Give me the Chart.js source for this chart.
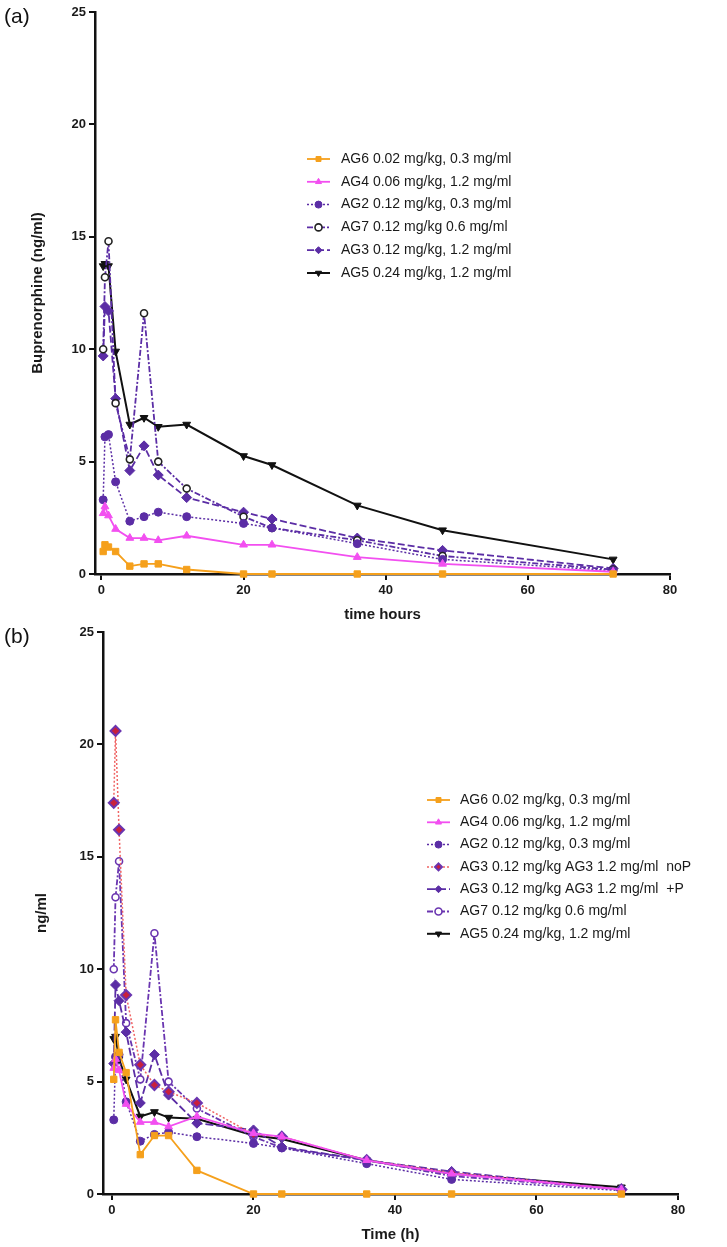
<!DOCTYPE html>
<html>
<head>
<meta charset="utf-8">
<script src="https://cdn.jsdelivr.net/npm/chart.js@4.4.0/dist/chart.umd.min.js"></script>
<style>
  html, body { margin: 0; padding: 0; background: #fff; }
  .wrap { position: relative; width: 727px; height: 1247px; overflow: hidden; }
  canvas { position: absolute; left: 0; }
  #chartA { top: 0; }
  #chartB { top: 620px; }
  .tag { position: absolute; left: 4px; font: 21px "Liberation Sans", Arial, sans-serif; color: #111; }
</style>
</head>
<body>
<div class="wrap">
  <canvas id="chartA" width="727" height="630"></canvas>
  <canvas id="chartB" width="727" height="627"></canvas>
  <div class="tag" style="top:4px">(a)</div>
  <div class="tag" style="top:624px">(b)</div>
</div>
<script>
// sampling times (h)
const times = [0.25, 0.5, 1, 2, 4, 6, 8, 12, 20, 24, 36, 48, 72];
const xTicks = [0, 20, 40, 60, 80];
const yTicks = [0, 5, 10, 15, 20, 25];

// panel (a)
const ag6A = [1.0, 1.3, 1.2, 1.0, 0.35, 0.45, 0.45, 0.2, 0, 0, 0, 0, 0];
const ag4A = [2.7, 3.0, 2.6, 2.0, 1.6, 1.6, 1.5, 1.7, 1.3, 1.3, 0.75, 0.45, 0.1];
const ag2A = [3.3, 6.1, 6.2, 4.1, 2.35, 2.55, 2.75, 2.55, 2.25, 2.05, 1.35, 0.65, 0.15];
const ag7A = [10.0, 13.2, 14.8, 7.6, 5.1, 11.6, 5.0, 3.8, 2.55, 2.05, 1.5, 0.8, 0.2];
const ag3A = [9.7, 11.9, 11.7, 7.8, 4.6, 5.7, 4.4, 3.4, 2.75, 2.45, 1.6, 1.05, 0.25];
const ag5A = [13.7, 13.8, 13.7, 9.9, 6.65, 6.95, 6.55, 6.65, 5.25, 4.85, 3.05, 1.95, 0.65];

// panel (b)
const ag6B = [5.1, 7.75, 6.3, 5.4, 1.75, 2.6, 2.6, 1.05, 0, 0, 0, 0, 0];
const ag4B = [5.6, 6.0, 5.5, 4.0, 3.2, 3.2, 3.0, 3.45, 2.7, 2.55, 1.5, 0.9, 0.2];
const ag2B = [3.3, 6.1, 6.2, 4.1, 2.35, 2.65, 2.75, 2.55, 2.25, 2.05, 1.35, 0.65, 0.15];
const ag3noP = [17.4, 20.6, 16.2, 8.85, 5.75, 4.85, 4.55, 4.05, 2.65, 2.55, 1.5, 0.95, 0.2];
const ag3P = [5.8, 9.3, 8.6, 7.2, 4.05, 6.2, 4.4, 3.15, 2.85, 2.1, 1.5, 1.0, 0.2];
const ag7B = [10.0, 13.2, 14.8, 7.6, 5.1, 11.6, 5.0, 3.8, 2.55, 2.05, 1.5, 0.8, 0.2];
const ag5B = [6.9, 7.0, 6.0, 5.1, 3.45, 3.65, 3.4, 3.35, 2.6, 2.45, 1.5, 0.9, 0.3];

const FONT = '"Liberation Sans", Arial, sans-serif';
const ORANGE = '#f5a01c', PINK = '#f24ff0', PURPLE = '#5b2da5', RED = '#f06464';

const pts = vals => times.map((t, i) => ({ x: t, y: vals[i] }));

function series(label, vals, color, opts = {}) {
  return Object.assign({
    label,
    data: pts(vals),
    borderColor: color,
    backgroundColor: color,
    borderWidth: 1.8,
    borderDash: [],
    pointStyle: 'circle',
    pointRadius: 4,
    pointBackgroundColor: color,
    pointBorderColor: color,
    pointBorderWidth: 1,
    pointRotation: 0,
    tension: 0,
    clip: false
  }, opts);
}

// draws the legend box at a fixed spot, reusing each dataset's line + marker style
const boxLegend = {
  id: 'boxLegend',
  afterDatasetsDraw(chart, args, o) {
    const ctx = chart.ctx;
    ctx.save();
    chart.data.datasets.forEach((ds, i) => {
      const y = o.y + i * o.rowH;
      ctx.strokeStyle = ds.borderColor;
      ctx.lineWidth = ds.borderWidth;
      ctx.setLineDash(ds.borderDash || []);
      ctx.beginPath();
      ctx.moveTo(o.x, y);
      ctx.lineTo(o.x + o.len, y);
      ctx.stroke();
      ctx.setLineDash([]);
      ctx.fillStyle = ds.pointBackgroundColor;
      ctx.strokeStyle = ds.pointBorderColor;
      ctx.lineWidth = ds.pointBorderWidth;
      Chart.helpers.drawPoint(ctx, {
        pointStyle: ds.pointStyle, radius: 3.5,
        rotation: ds.pointRotation, borderWidth: ds.pointBorderWidth
      }, o.x + o.len / 2, y);
      ctx.fillStyle = '#1a1a1a';
      ctx.font = '14px ' + FONT;
      ctx.textBaseline = 'middle';
      ctx.textAlign = 'left';
      ctx.fillText(ds.label, o.x + o.len + o.gap, y);
    });
    ctx.restore();
  }
};

function axisOpts(extra) {
  return Object.assign({
    type: 'linear',
    grid: { display: true, drawOnChartArea: false, drawTicks: true, tickLength: 6, color: '#111', lineWidth: 2 },
    border: { display: true, color: '#111', width: 2.5 },
    ticks: { color: '#1a1a1a', font: { family: FONT, size: 13, weight: 'bold' }, padding: 3, maxRotation: 0 }
  }, extra);
}

function makeChart(id, datasets, cfg) {
  return new Chart(document.getElementById(id), {
    type: 'line',
    data: { datasets },
    options: {
      responsive: false,
      animation: false,
      layout: { padding: { left: 0, top: 12, right: cfg.right, bottom: 0 } },
      plugins: {
        legend: { display: false },
        tooltip: { enabled: false },
        boxLegend: cfg.legend
      },
      scales: {
        x: axisOpts({
          min: cfg.xMin, max: 80,
          afterBuildTicks: s => { s.ticks = xTicks.map(v => ({ value: v })); },
          afterFit: s => { s.height = cfg.xH; },
          title: { display: true, text: cfg.xTitle, color: '#1a1a1a',
                   font: { family: FONT, size: 15, weight: 'bold' }, padding: { top: 0, bottom: cfg.xTitlePad } }
        }),
        y: axisOpts({
          min: 0, max: 25,
          afterBuildTicks: s => { s.ticks = yTicks.map(v => ({ value: v })); },
          afterFit: s => { s.width = cfg.yW; },
          title: { display: true, text: cfg.yTitle, color: '#1a1a1a',
                   font: { family: FONT, size: 15, weight: 'bold' }, padding: { top: cfg.yTitlePad, bottom: 0 } }
        })
      }
    },
    plugins: [boxLegend]
  });
}

makeChart('chartA', [
  series('AG6 0.02 mg/kg, 0.3 mg/ml', ag6A, ORANGE, { pointStyle: 'rect', pointRadius: 4.5 }),
  series('AG4 0.06 mg/kg, 1.2 mg/ml', ag4A, PINK, { pointStyle: 'triangle', pointRadius: 4.5 }),
  series('AG2 0.12 mg/kg, 0.3 mg/ml', ag2A, PURPLE, { borderDash: [2, 2], borderWidth: 1.5 }),
  series('AG7 0.12 mg/kg 0.6 mg/ml', ag7A, PURPLE, { borderDash: [6, 2, 2, 2], pointBackgroundColor: '#fff',
         pointBorderColor: '#222', pointBorderWidth: 1.6, pointRadius: 3.5 }),
  series('AG3 0.12 mg/kg, 1.2 mg/ml', ag3A, PURPLE, { borderDash: [7, 3], pointStyle: 'rectRot', pointRadius: 5 }),
  series('AG5 0.24 mg/kg, 1.2 mg/ml', ag5A, '#111', { pointStyle: 'triangle', pointRotation: 180, pointRadius: 4.5, borderWidth: 2 })
], {
  right: 57, xMin: -0.9, xH: 56, xTitlePad: 6, yW: 95, yTitlePad: 29,
  xTitle: 'time hours', yTitle: 'Buprenorphine (ng/ml)',
  legend: { x: 307, y: 159, rowH: 22.8, len: 23, gap: 11 }
});

makeChart('chartB', [
  series('AG6 0.02 mg/kg, 0.3 mg/ml', ag6B, ORANGE, { pointStyle: 'rect', pointRadius: 4.5 }),
  series('AG4 0.06 mg/kg, 1.2 mg/ml', ag4B, PINK, { pointStyle: 'triangle', pointRadius: 4.5 }),
  series('AG2 0.12 mg/kg, 0.3 mg/ml', ag2B, PURPLE, { borderDash: [2, 2], borderWidth: 1.5 }),
  series('AG3 0.12 mg/kg AG3 1.2 mg/ml  noP', ag3noP, RED, { borderDash: [2, 2], borderWidth: 1.5, pointStyle: 'rectRot',
         pointRadius: 5, pointBackgroundColor: '#c8203c', pointBorderColor: '#6a35b0', pointBorderWidth: 2 }),
  series('AG3 0.12 mg/kg AG3 1.2 mg/ml  +P', ag3P, PURPLE, { borderDash: [8, 3], pointStyle: 'rectRot', pointRadius: 5 }),
  series('AG7 0.12 mg/kg 0.6 mg/ml', ag7B, '#6a35b0', { borderDash: [6, 2, 2, 2], pointBackgroundColor: '#fff',
         pointBorderColor: '#6a35b0', pointBorderWidth: 1.6, pointRadius: 3.5 }),
  series('AG5 0.24 mg/kg, 1.2 mg/ml', ag5B, '#111', { pointStyle: 'triangle', pointRotation: 180, pointRadius: 4.5, borderWidth: 2 })
], {
  right: 49, xMin: -1.27, xH: 53, xTitlePad: 3, yW: 103, yTitlePad: 33,
  xTitle: 'Time (h)', yTitle: 'ng/ml',
  legend: { x: 427, y: 180, rowH: 22.3, len: 23, gap: 10 }
});
</script>
</body>
</html>
